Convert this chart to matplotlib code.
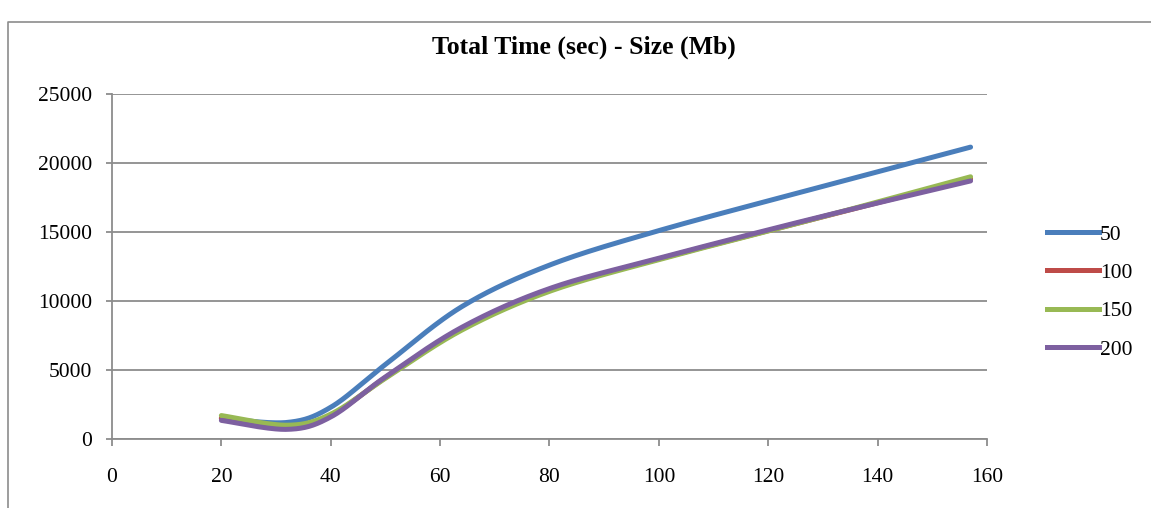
import numpy as np
import matplotlib.pyplot as plt
from matplotlib.lines import Line2D

# size (Mb) and total time (sec) for each block setting
size = [20, 32, 40, 50, 64, 80, 100, 128, 157]
t50 = [1500, 1200, 2300, 5400, 9600, 12600, 15100, 18100, 21150]
t100 = [1500, 850, 1700, 4450, 8000, 10800, 13050, 15900, 18850]
t150 = [1700, 1000, 1800, 4400, 7900, 10700, 13000, 15900, 19000]
t200 = [1350, 700, 1600, 4500, 8100, 10900, 13100, 15950, 18700]
labels = ['50', '100', '150', '200']
colors = ['#4a7ebb', '#be4b48', '#98b954', '#7d60a0']


def smooth(x, y, n=40):
    # Catmull-Rom style bezier through the points (like a spreadsheet "smoothed line")
    p = np.column_stack([x, y]).astype(float)
    p = np.vstack([p[0], p, p[-1]])
    out = []
    for i in range(1, len(p) - 2):
        p0, p1, p2, p3 = p[i - 1], p[i], p[i + 1], p[i + 2]
        c1 = p1 + (p2 - p0) / 6
        c2 = p2 - (p3 - p1) / 6
        t = np.linspace(0, 1, n)[:, None]
        seg = (1 - t) ** 3 * p1 + 3 * (1 - t) ** 2 * t * c1 + 3 * (1 - t) * t ** 2 * c2 + t ** 3 * p2
        out.append(seg if i == 1 else seg[1:])
    out = np.vstack(out)
    return out[:, 0], out[:, 1]


plt.rcParams['font.family'] = ['Liberation Serif', 'DejaVu Serif']

fig = plt.figure(figsize=(11.51, 5.08), dpi=100)
ax = fig.add_axes([0.0973, 0.1358, 0.7602, 0.6792])

for ys, c in zip([t50, t100, t150, t200], colors):
    sx, sy = smooth(size, ys)
    ax.plot(sx, sy, color=c, lw=3.6, solid_capstyle='round', zorder=3)

ax.set_xlim(0, 160)
ax.set_ylim(0, 25000)
ax.set_xticks(range(0, 161, 20))
ax.set_yticks(range(0, 25001, 5000))
ax.grid(axis='y', color='#8c8c8c', lw=1.3)
ax.set_axisbelow(True)
for s in ['top', 'right']:
    ax.spines[s].set_visible(False)
for s in ['left', 'bottom']:
    ax.spines[s].set_color('#8c8c8c')
    ax.spines[s].set_linewidth(1.3)
ax.tick_params(axis='x', direction='out', length=5, width=1.3, color='#8c8c8c',
               labelsize=15.5, pad=16)
ax.tick_params(axis='y', direction='out', length=4.5, width=1.3, color='#8c8c8c',
               labelsize=15.5, pad=10)

fig.text(0.507, 0.907, 'Total Time (sec) - Size (Mb)', ha='center', va='center',
         fontsize=18.5, fontweight='bold')

handles = [Line2D([], [], color=c, lw=3.6) for c in colors]
fig.legend(handles, labels, loc='center left', bbox_to_anchor=(0.893, 0.425),
           frameon=False, fontsize=15.5, handlelength=2.4, handletextpad=0.05,
           labelspacing=0.85)

# outer chart border
fig.add_artist(Line2D([0.007, 0.007, 1.0], [0.0, 0.957, 0.957], color='#8c8c8c', lw=1.2))

fig.savefig('out.png', dpi=100)
